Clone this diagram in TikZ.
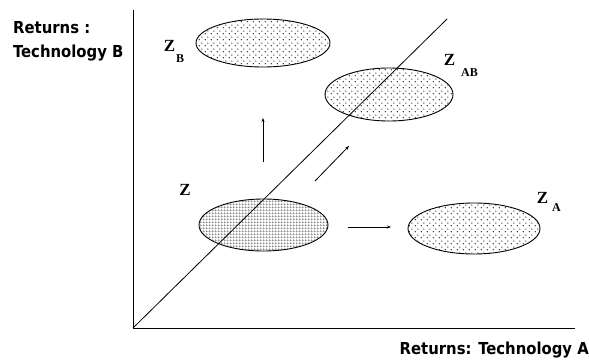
\documentclass[tikz,border=0pt]{standalone}
\usepackage{fontspec}
\setmainfont{DejaVu Sans}
\newfontfamily\axfont{DejaVu Sans Condensed}
\newfontfamily\zfont{Liberation Serif}
\usetikzlibrary{shapes.geometric,patterns,patterns.meta,arrows.meta}
\tikzdeclarepattern{
  name=spdots,
  type=uncolored,
  bounding box={(0pt,0pt) and (6pt,6pt)},
  tile size={(6pt,6pt)},
  code={
    \fill (1.5pt,1.5pt) circle (0.7pt);
    \fill (4.5pt,4.5pt) circle (0.7pt);
  }
}
\tikzdeclarepattern{
  name=fgrid,
  type=uncolored,
  bounding box={(0pt,0pt) and (2.6pt,2.6pt)},
  tile size={(2.6pt,2.6pt)},
  code={
    \draw[line width=0.6pt] (0pt,0pt) -- (2.6pt,0pt);
    \draw[line width=0.6pt] (0pt,0pt) -- (0pt,2.6pt);
  }
}
\tikzset{
  zone/.style={ellipse, draw, line width=0.9pt, inner sep=0pt},
  dotzone/.style={zone, pattern=spdots, pattern color=black},
  gridzone/.style={zone, pattern=fgrid, pattern color=black!75},
  axis/.style={line width=0.9pt},
  move/.style={line width=0.8pt, -{Stealth[length=4pt,width=3pt]}},
  axlab/.style={font=\axfont\bfseries\fontsize{16.5}{18}\selectfont, inner sep=0pt},
  zlab/.style={font=\zfont\bfseries\fontsize{17}{18}\selectfont, inner sep=0pt},
  sublab/.style={font=\zfont\bfseries\fontsize{12}{13}\selectfont, inner sep=0pt}
}
\begin{document}
\begin{tikzpicture}[x=1pt,y=-1pt]
\useasboundingbox (0,0) rectangle (589,359);
% axes
\coordinate (O) at (133,328);
\coordinate (ytop) at (133,10);
\coordinate (xend) at (575,328);
\coordinate (dend) at (447,19);
% zones
\node[dotzone, minimum width=134pt, minimum height=48pt] (zb) at (263,43) {};
\node[dotzone, minimum width=128pt, minimum height=53pt] (zab) at (389,94.5) {};
\node[gridzone, minimum width=129pt, minimum height=52pt] (z) at (263.5,225) {};
\node[dotzone, minimum width=132pt, minimum height=51pt] (za) at (474,228.5) {};
\draw[axis] (ytop) -- (O) -- (xend);
\draw[line width=0.8pt] (O) -- (dend);
% labels
\node[zlab] (lzb) at (169.5,46) {Z};
\node[sublab] (lzbs) at (180,59) {B};
\node[zlab] (lzab) at (449.5,59.5) {Z};
\node[sublab] (lzabs) at (469.5,73) {AB};
\node[zlab] (lz) at (185,190) {Z};
\node[zlab] (lza) at (542.5,197.5) {Z};
\node[sublab] (lzas) at (556.5,208) {A};
\node[axlab, anchor=north west] (ylab1) at (13,21) {Returns :};
\node[axlab, anchor=north west] (ylab2) at (13,45) {Technology B};
\node[axlab, anchor=north east] (xlab) at (589,342) {Returns: Technology A};
% movement arrows
\coordinate (a1s) at (263,162);
\coordinate (a1e) at (263,118);
\coordinate (a2s) at (315,181);
\coordinate (a2e) at (349,146);
\coordinate (a3s) at (348,227);
\coordinate (a3e) at (391,227);
\draw[move] (a1s) -- (a1e);
\draw[move] (a2s) -- (a2e);
\draw[move] (a3s) -- (a3e);
\end{tikzpicture}
\end{document}
